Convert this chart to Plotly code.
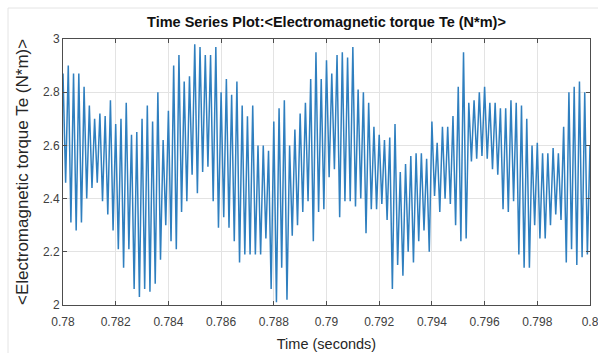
import numpy as np
import plotly.graph_objects as go

# Electromagnetic torque Te (N*m), sampled every 0.1 ms from 0.78 s to 0.80 s.
# Each switching cycle contributes a crest sample followed by a valley sample.
t_start = 0.78
t_step = 0.0001

crest_values = [
    2.87, 2.90, 2.87, 2.87, 2.82, 2.75, 2.70, 2.72, 2.71, 2.77,
    2.68, 2.70, 2.76, 2.64, 2.65, 2.70, 2.75, 2.69, 2.80, 2.62,
    2.73, 2.90, 2.94, 2.84, 2.86, 2.98, 2.97, 2.94, 2.94, 2.97,
    2.80, 2.85, 2.79, 2.84, 2.75, 2.71, 2.75, 2.60, 2.60, 2.58,
    2.69, 2.74, 2.77, 2.60, 2.66, 2.72, 2.76, 2.85, 2.95, 2.85,
    2.92, 2.87, 2.94, 2.95, 2.93, 2.97, 2.81, 2.80, 2.76, 2.67,
    2.64, 2.62, 2.63, 2.68, 2.50, 2.53, 2.56, 2.57, 2.57, 2.55,
    2.69, 2.61, 2.67, 2.67, 2.71, 2.82, 2.95, 2.76, 2.77, 2.80,
    2.82, 2.76, 2.76, 2.74, 2.74, 2.77, 2.76, 2.75, 2.70, 2.60,
    2.61, 2.57, 2.57, 2.59, 2.57, 2.67, 2.80, 2.82, 2.84, 2.80,
    2.60,
]

valley_values = [
    2.46, 2.31, 2.28, 2.31, 2.40, 2.44, 2.46, 2.39, 2.34, 2.28,
    2.21, 2.14, 2.21, 2.06, 2.03, 2.06, 2.05, 2.08, 2.17, 2.30,
    2.24, 2.21, 2.35, 2.39, 2.49, 2.42, 2.50, 2.52, 2.39, 2.29,
    2.33, 2.29, 2.24, 2.16, 2.19, 2.19, 2.19, 2.19, 2.25, 2.06,
    2.01, 2.14, 2.02, 2.26, 2.30, 2.35, 2.39, 2.24, 2.35, 2.36,
    2.48, 2.51, 2.33, 2.39, 2.39, 2.37, 2.40, 2.27, 2.36, 2.36,
    2.38, 2.32, 2.06, 2.15, 2.11, 2.20, 2.16, 2.24, 2.28, 2.20,
    2.41, 2.35, 2.40, 2.38, 2.30, 2.24, 2.25, 2.54, 2.55, 2.56,
    2.55, 2.51, 2.49, 2.36, 2.35, 2.39, 2.19, 2.14, 2.14, 2.30,
    2.25, 2.25, 2.30, 2.34, 2.32, 2.16, 2.21, 2.15, 2.18, 2.19,
]

x_ticks = [0.78, 0.782, 0.784, 0.786, 0.788, 0.79, 0.792, 0.794, 0.796, 0.798, 0.8]
x_tick_labels = ["0.78", "0.782", "0.784", "0.786", "0.788", "0.79",
                 "0.792", "0.794", "0.796", "0.798", "0.8"]
y_ticks = [2, 2.2, 2.4, 2.6, 2.8, 3]
y_tick_labels = ["2", "2.2", "2.4", "2.6", "2.8", "3"]

# interleave crest / valley samples on the solver's fixed time grid
torque = []
for i, c in enumerate(crest_values):
    torque.append(c)
    if i < len(valley_values):
        torque.append(valley_values[i])
time = t_start + t_step * np.arange(len(torque))

axis_color = "#262626"
grid_color = "#e3e3e3"
font_family = "Liberation Sans, Arial, sans-serif"

fig = go.Figure()
fig.add_trace(go.Scatter(
    x=time, y=torque, mode="lines",
    line=dict(color="#2f7fbf", width=1.5),
    hoverinfo="x+y", showlegend=False,
))

fig.update_layout(
    width=598, height=356,
    margin=dict(l=63, r=8, t=39, b=51),
    paper_bgcolor="white", plot_bgcolor="white",
    font=dict(family=font_family, color=axis_color, size=12),
    title=dict(
        text="<b>Time Series Plot:<Electromagnetic torque Te (N*m)></b>",
        x=(63 + 590) / 2 / 598, xanchor="center",
        y=1 - 22 / 356, yanchor="middle",
        font=dict(size=14.5, color="#111111", family=font_family),
    ),
    xaxis=dict(
        range=[0.78, 0.8000001],
        tickvals=x_ticks, ticktext=x_tick_labels,
        showgrid=True, gridcolor=grid_color, gridwidth=1,
        zeroline=False,
        showline=True, linecolor="#4d4d4d", linewidth=1, mirror="ticks",
        ticks="inside", ticklen=4, tickcolor="#4d4d4d",
        ticklabelstandoff=6, ticklabeloverflow="allow",
        tickfont=dict(size=12, color="#404040"),
        title=dict(text="Time (seconds)", font=dict(size=14.5, color="#262626"), standoff=10),
        automargin=False,
    ),
    yaxis=dict(
        range=[2, 3],
        tickvals=y_ticks, ticktext=y_tick_labels,
        showgrid=True, gridcolor=grid_color, gridwidth=1,
        zeroline=False,
        showline=True, linecolor="#4d4d4d", linewidth=1, mirror="ticks",
        ticks="inside", ticklen=4, tickcolor="#4d4d4d",
        tickfont=dict(size=12, color="#404040"),
        automargin=False,
    ),
)

# vertical axis title, placed to the left of the tick labels
fig.add_annotation(
    text="<Electromagnetic torque Te (N*m)>",
    xref="paper", yref="paper",
    x=-41 / 527, y=0.5, xanchor="center", yanchor="middle",
    textangle=-90, showarrow=False,
    font=dict(size=17, color="#262626", family=font_family),
)

# faint frame of the figure window
fig.add_shape(type="line", xref="paper", yref="paper",
              x0=-55 / 527, x1=-55 / 527, y0=-48 / 266, y1=1 + 31 / 266,
              line=dict(color="#e4e4e4", width=1))
fig.add_shape(type="line", xref="paper", yref="paper",
              x0=-55 / 527, x1=1 + 8 / 527, y0=1 + 31 / 266, y1=1 + 31 / 266,
              line=dict(color="#e4e4e4", width=1))

fig.write_html("out.html")
